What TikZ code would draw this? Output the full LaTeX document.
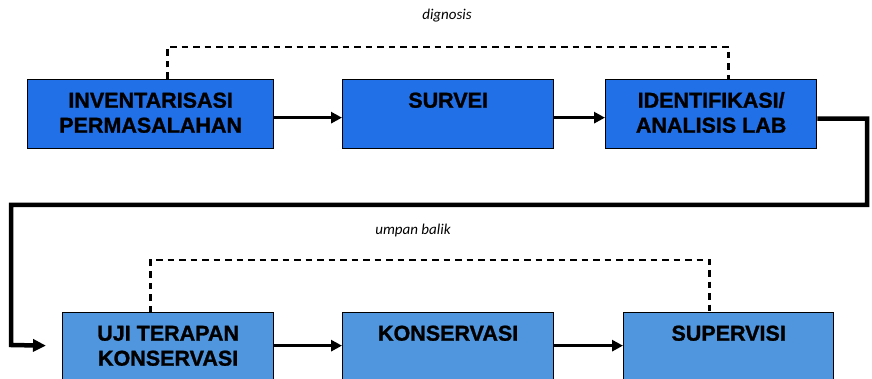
\documentclass[tikz,border=0pt]{standalone}
\usepackage{fontspec}
\setmainfont{Liberation Sans}
\newfontfamily\boxfont{Liberation Sans Bold}[FakeBold=1.2]
\newfontfamily\labelfont{Carlito}
\usetikzlibrary{arrows.meta,calc}
\definecolor{topblue}{RGB}{34,112,232}
\definecolor{botblue}{RGB}{80,150,222}
\newcommand\boxtxt[2]{\parbox[c][69pt][t]{#1}{\centering\boxfont\fontsize{21.5}{25}\selectfont\rule{0pt}{28pt}#2}}
\tikzset{
  stepbox/.style={draw=black, line width=1.3pt, inner sep=0pt, anchor=north west},
  topbox/.style={stepbox, fill=topblue},
  botbox/.style={stepbox, fill=botblue},
  flow/.style={line width=3pt, -{Triangle[length=11pt,width=11pt]}},
  loopline/.style={line width=4.5pt, -{Triangle[length=13pt,width=12pt]}},
  dashline/.style={line width=2.4pt, dash pattern=on 6.5pt off 5pt},
  note/.style={font=\labelfont\itshape\fontsize{15}{17}\selectfont, inner sep=0pt}
}
\begin{document}
\begin{tikzpicture}[x=1pt,y=-1pt]
\useasboundingbox (0,0) rectangle (872,379);
\clip (0,0) rectangle (872,379);
% top row
\node[topbox] (b1) at (27,79) {\boxtxt{246pt}{INVENTARISASI\\PERMASALAHAN}};
\node[topbox] (b2) at (342,79) {\boxtxt{211pt}{SURVEI}};
\node[topbox] (b3) at (605,79) {\boxtxt{211pt}{IDENTIFIKASI/\\ANALISIS LAB}};
% bottom row
\node[botbox] (b4) at (62,312) {\boxtxt{211pt}{UJI TERAPAN\\KONSERVASI}};
\node[botbox] (b5) at (342,312) {\boxtxt{211pt}{KONSERVASI}};
\node[botbox] (b6) at (623,312) {\boxtxt{210pt}{SUPERVISI}};
% labels
\node[note] (l1) at (447,16) {dignosis};
\node[note] (l2) at (413,231) {umpan balik};
% flow arrows
\draw[flow] ([yshift=-3.5pt]b1.east) -- ([yshift=-3.5pt]b2.west);
\draw[flow] ([yshift=-3.5pt]b2.east) -- ([yshift=-3.5pt]b3.west);
\draw[flow] ([yshift=1.5pt]b4.east) -- ([yshift=1.5pt]b5.west);
\draw[flow] ([yshift=1.5pt]b5.east) -- ([yshift=1.5pt]b6.west);
% loop connector
\coordinate (e4) at ([xshift=-16pt,yshift=1.5pt]b4.west);
\draw[loopline, line join=miter] ([yshift=-4.5pt]b3.east) -| (867,205) -| (11,345) -- (e4);
% dashed feedback lines
\draw[dashline] ([xshift=17pt]b1.north) -- ++(0,-32) -| ([xshift=17.5pt]b3.north);
\draw[dashline] ([xshift=-17.5pt]b4.north) -- ++(0,-52) -| ([xshift=-19pt]b6.north);
\end{tikzpicture}
\end{document}
